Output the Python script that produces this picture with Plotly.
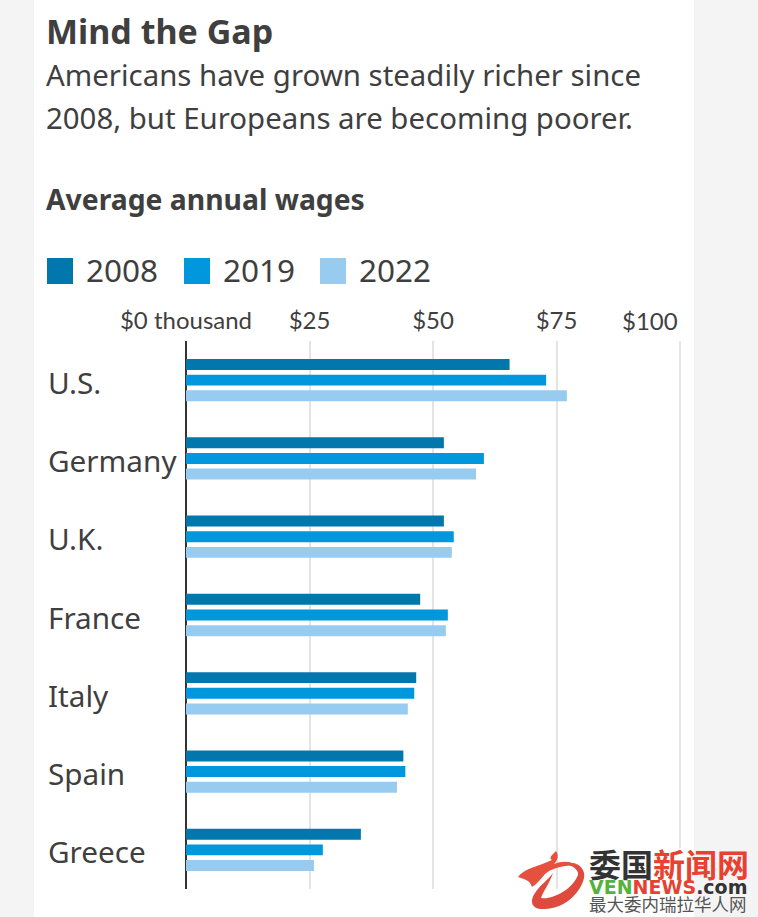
import plotly.graph_objects as go

countries = ['U.S.', 'Germany', 'U.K.', 'France', 'Italy', 'Spain', 'Greece']
wages_2008 = [65.5, 52.2, 52.2, 47.4, 46.6, 44.0, 35.4]
wages_2019 = [72.9, 60.3, 54.2, 53.0, 46.2, 44.4, 27.7]
wages_2022 = [77.1, 58.7, 53.8, 52.6, 44.9, 42.7, 25.9]
years = ['2008', '2019', '2022']
colors = ['#0277AE', '#0097DC', '#97CBF0']
tick_vals = [0, 25, 50, 75, 100]
tick_text = ['$0 thousand', '$25', '$50', '$75', ' ']

W, H = 758, 917
L, R, T, B = 186, 76, 341, 28
TEXT = '#3f3f3f'
SANS = 'Noto Sans, sans-serif'
TICK_FONT = 'Lato, sans-serif'
CJK = 'Noto Sans CJK SC'


def px_x(x):
    return (x - L) / (W - L - R)


def px_y(y):
    return 1 - (y - T) / (H - T - B)


def page_rect(x0, y0, x1, y1, color, layer='above'):
    return dict(type='rect', xref='paper', yref='paper', x0=px_x(x0), x1=px_x(x1), y0=px_y(y1), y1=px_y(y0),
                fillcolor=color, line_width=0, layer=layer)


def page_path(points, color):
    # points are (command, x, y, x, y...) in page pixels
    parts = []
    for p in points:
        coords = [f'{px_x(p[i]):.5f} {px_y(p[i + 1]):.5f}' for i in range(1, len(p), 2)]
        parts.append(p[0] + ' ' + ' '.join(coords))
    return dict(type='path', xref='paper', yref='paper', path=' '.join(parts) + ' Z',
                fillcolor=color, line_width=0)


fig = go.Figure()
for year, values, color in zip(years, [wages_2008, wages_2019, wages_2022], colors):
    fig.add_trace(go.Bar(y=countries, x=values, name=year, orientation='h',
                         marker=dict(color=color, line_width=0)))


def add_text(x, y, text, size, bold=False, family=SANS, color=TEXT):
    fig.add_annotation(xref='paper', yref='paper', x=px_x(x), y=px_y(y), text=f'<b>{text}</b>' if bold else text,
                       showarrow=False, xanchor='left', yanchor='middle',
                       font=dict(size=size, family=family, color=color))


# headline block
add_text(44, 31, 'Mind the Gap', 34, bold=True)
add_text(44, 75, 'Americans have grown steadily richer since', 29.4)
add_text(44, 118, '2008, but Europeans are becoming poorer.', 29.4)
add_text(44, 199, 'Average annual wages', 28.3, bold=True)

# white column behind the chart, then the hand drawn legend with its big swatches
shapes = [page_rect(34, 0, 694, H, 'white', layer='below')]
for year, color, x in zip(years, colors, [47, 184, 320]):
    shapes.append(page_rect(x, 258, x + 26, 284, color))
    add_text(x + 37, 269, year, 31.5)

# country labels sit at the left, not against the axis
for country in countries:
    fig.add_annotation(xref='paper', yref='y', x=px_x(46), y=country, text=country, showarrow=False,
                       xanchor='left', yanchor='middle', yshift=-2, font=dict(size=29.7, family=SANS, color=TEXT))

# last tick label is right aligned to its gridline
fig.add_annotation(xref='x', yref='paper', x=100, y=px_y(320), text='$100', showarrow=False, xanchor='right',
                   yanchor='middle', font=dict(size=24, family=TICK_FONT, color=TEXT))

# watermark
shapes.append(page_rect(587, 848, 694, H, 'white'))
shapes.append(page_path([('M', 545, 909), ('C', 530, 910, 530, 900, 535, 893), ('C', 540, 885, 548, 880, 553, 873),
                         ('C', 549, 884, 544, 890, 541, 898), ('C', 552, 900, 572, 890, 578, 875),
                         ('C', 579, 871, 574, 866, 566, 864), ('C', 578, 860, 586, 870, 584, 878),
                         ('C', 580, 895, 562, 909, 545, 909)], '#DF4A3F'))
shapes.append(page_path([('M', 518, 877), ('C', 524, 868, 540, 866, 552, 860), ('C', 548, 858, 553, 854, 556, 851),
                         ('C', 559, 855, 558, 860, 554, 864), ('C', 564, 860, 572, 862, 580, 866),
                         ('C', 565, 864, 552, 868, 545, 874), ('C', 540, 880, 536, 885, 532, 887),
                         ('C', 530, 880, 524, 879, 518, 877)], '#E5503F'))
mark = ('<span style="font-size:32px"><b>委国<span style="color:#E8412F">新闻网</span></b></span><br>'
        '<span style="font-size:19px;font-family:DejaVu Sans"><b><span style="color:#55B23A">VEN</span>'
        '<span style="color:#E8412F">NEWS</span>.com</b></span><br>'
        '<span style="font-size:17.5px;color:#555555">最大委内瑞拉华人网</span>')
fig.add_annotation(xref='paper', yref='paper', x=px_x(587), y=px_y(878), text=mark, showarrow=False, align='left',
                   xanchor='left', yanchor='middle', font=dict(size=13, family=CJK, color='#333333'))

fig.update_layout(
    width=W, height=H,
    margin=dict(l=L, r=R, t=T, b=B),
    paper_bgcolor='#F4F4F4', plot_bgcolor='white',
    barmode='group', bargap=0.4, bargroupgap=0.3,
    showlegend=False,
    shapes=shapes,
    font=dict(family=SANS, color=TEXT),
    xaxis=dict(range=[0, 100.4], side='top', tickvals=tick_vals, ticktext=tick_text, ticks='',
               tickfont=dict(size=24, family=TICK_FONT, color=TEXT), ticklabelstandoff=6,
               showgrid=True, gridcolor='#E4E4E4', gridwidth=2,
               zeroline=True, zerolinecolor='#333333', zerolinewidth=2, showline=False),
    yaxis=dict(autorange='reversed', showticklabels=False, ticks='', showgrid=False, zeroline=False, showline=False),
)

fig.write_html('out.html', config={'displayModeBar': False}, post_script="document.body.style.margin='0';")
